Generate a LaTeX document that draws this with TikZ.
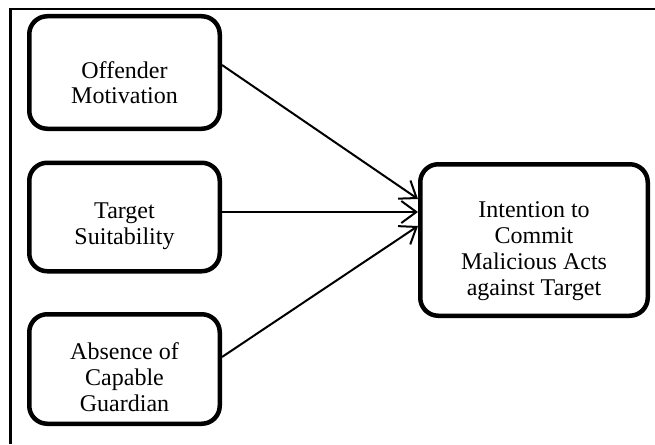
\documentclass[tikz,border=0pt]{standalone}
\usepackage{fontspec}
\setmainfont{Liberation Serif}
\usetikzlibrary{arrows.meta}
\begin{document}
\begin{tikzpicture}[x=1pt,y=-1pt,
  box/.style={draw, line width=4.5pt, rounded corners=18pt, inner sep=0pt},
  txt/.style={align=center, inner sep=0pt, font=\fontsize{24}{25.8}\selectfont},
  conn/.style={line width=2pt, -{Straight Barb[length=15pt,width=22pt,line width=2pt]}}]
\useasboundingbox (0,0) rectangle (655,444);
\coordinate (bl) at (10.5,444);
\coordinate (tl) at (10.5,9);
\coordinate (tr) at (655,9);
\draw[line width=2.2pt] (bl) -- (tl) -- (tr);
\node[box, minimum width=190.5pt, minimum height=112.5pt] (b1) at (124.5,72.5) {};
\node[box, minimum width=190.5pt, minimum height=108.5pt] (b2) at (124.5,217) {};
\node[box, minimum width=190.5pt, minimum height=109.5pt] (b3) at (124.5,369) {};
\node[box, minimum width=227.5pt, minimum height=151.5pt] (b4) at (534,240) {};
\node[txt] (t1) at (124.5,82.6) {Offender\\Motivation};
\node[txt] (t2) at (124.5,226.5) {Target\\Suitability};
\node[txt] (t3) at (124.5,377.3) {Absence of\\Capable\\Guardian};
\node[txt] (t4) at (534,251) {Intention to\\Commit\\Malicious Acts\\against Target};
\draw[conn] ([yshift=7.5pt]b1.east) -- ([yshift=41pt]b4.west);
\draw[conn] ([yshift=5pt]b2.east) -- ([yshift=28pt]b4.west);
\draw[conn] ([yshift=12pt]b3.east) -- ([yshift=14pt]b4.west);
\end{tikzpicture}
\end{document}
